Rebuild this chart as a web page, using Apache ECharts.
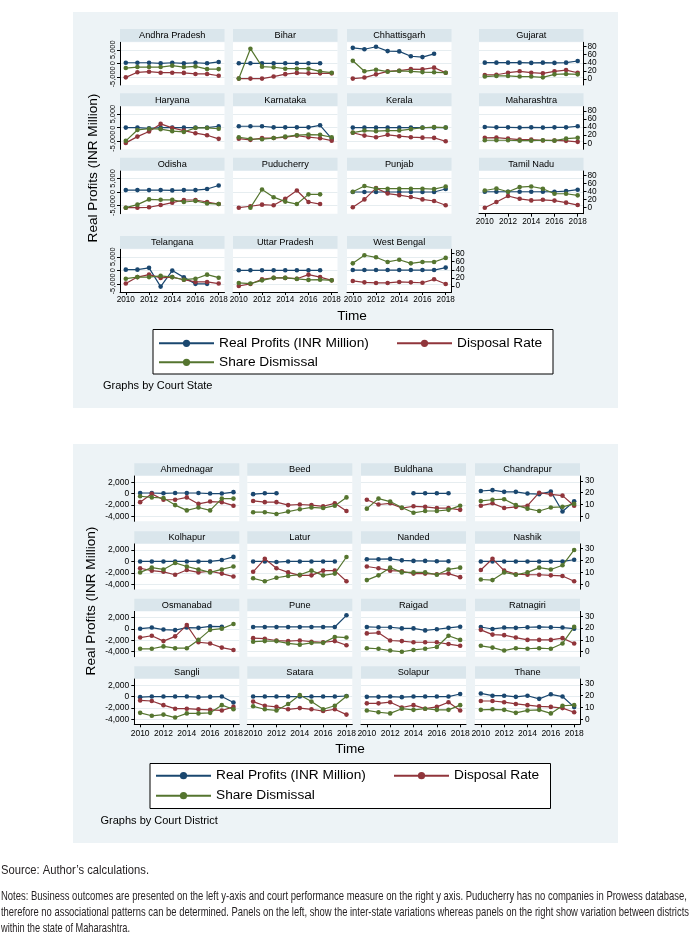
<!DOCTYPE html>
<html>
<head>
<meta charset="utf-8">
<script src="https://cdn.jsdelivr.net/npm/echarts@6/dist/echarts.min.js"></script>
<style>
html,body{margin:0;padding:0;background:#ffffff;}
#chart{width:690px;height:941px;}
</style>
</head>
<body>
<div id="chart"></div>
<script>
// ---------------- DATA ----------------
const years = ['2010','2011','2012','2013','2014','2015','2016','2017','2018'];
const seriesNames = ['Real Profits (INR Million)', 'Disposal Rate', 'Share Dismissal'];

const stateNames = ['Andhra Pradesh','Bihar','Chhattisgarh','Gujarat','Haryana','Karnataka','Kerala','Maharashtra','Odisha','Puducherry','Punjab','Tamil Nadu','Telangana','Uttar Pradesh','West Bengal'];
const stateProfits = [
  [200,200,200,0,200,0,200,0,500],
  [0,0,0,0,0,0,0,0,null],
  [5700,5200,6100,4500,4400,2600,2300,3500,null],
  [250,250,250,250,150,250,150,250,850],
  [0,0,-250,0,0,0,0,0,500],
  [500,500,500,100,100,100,100,850,-4100],
  [0,0,0,0,0,0,0,0,0],
  [250,100,100,0,100,0,100,100,500],
  [700,700,700,700,600,700,700,1100,2400],
  [null,null,null,null,null,null,null,null,null],
  [0,0,0,0,0,0,0,0,1100],
  [100,100,100,100,100,100,100,350,850],
  [250,250,900,-6000,-100,-2600,-5000,-5000,null],
  [0,0,0,0,0,0,0,0,null],
  [100,100,100,100,100,100,100,100,1000]
];
const stateDisposal = [
  [4,16.5,18,15.5,15.5,15,12.5,12.5,8],
  [1,1,1,6,12,15,14,14,14],
  [1,3.5,11.5,19,20.5,24.5,24,28,15.5],
  [10,10.5,15.5,19,15.5,14,19,22,15.5],
  [1,16.5,29,48,38,31.5,25,20,11],
  [11.5,8.5,13,13,15,19,15,12.5,6.5],
  [26,19,15,21,17.5,15,14,13.5,5],
  [13.5,14,11.5,9,9,7,7,6,3.5],
  [0,0,1,6.5,12.5,19,19,14,9],
  [0,3.5,7.5,6,22,42.5,14,9,null],
  [1,20.5,48.5,35,31,26.5,20.5,16.5,6],
  [0,14,29,22,18,19.5,17.5,12.5,6.5],
  [6,22,28,20,22,15.5,10,10,6],
  [0,5,16.5,20,20,18,28,22,14],
  [12.5,9,7.5,7.5,10,9,8,16.5,5]
];
const stateDismissal = [
  [27,29.5,29.5,29.5,33,29.5,31,24.5,24.5],
  [1,75,30.5,29,25.5,25.5,25.5,19,15.5],
  [45,19,23,18,20,19,17,16.5,15.5],
  [6,7.5,7.5,6,6,4,11.5,12.5,11.5],
  [6,33,36,35,30,28,38,38,36],
  [15,11,10,13,16.5,20,21.5,21,15],
  [26.5,31.5,30,31.5,31.5,35,38.5,40,39],
  [7.5,7.5,7.5,6.5,6.5,7.5,6.5,11.5,13.5],
  [0,7.5,20.5,19.5,19.5,14,16.5,10.5,9],
  [null,0,45,26,15,9,33,33,null],
  [39.5,53.5,47.5,47,47,47,47,46,52.5],
  [42.5,47.5,39.5,51,52.5,47,34.5,34.5,30.5],
  [18,22,22,25,22,15.5,18,28,20.5],
  [7.5,6,14,20,20,17.5,15,15.5,14],
  [56,76,71,59.5,65,56,59.5,59.5,69.5]
];

const districtNames = ['Ahmednagar','Beed','Buldhana','Chandrapur','Kolhapur','Latur','Nanded','Nashik','Osmanabad','Pune','Raigad','Ratnagiri','Sangli','Satara','Solapur','Thane'];
const districtProfits = [
  [100,100,50,100,100,100,0,0,250],
  [-100,50,50,null,null,null,null,null,null],
  [null,null,null,null,50,50,50,50,null],
  [450,600,300,300,0,-100,350,-3150,-1350],
  [0,0,0,0,0,0,0,250,800],
  [0,0,-100,0,0,0,0,0,null],
  [400,400,450,200,100,100,50,50,null],
  [0,0,0,0,0,0,0,0,300],
  [50,250,-100,-200,250,200,450,400,null],
  [350,350,350,350,350,350,350,350,2400],
  [350,300,300,100,100,-250,-50,200,400],
  [350,0,250,200,300,350,300,250,50],
  [-100,0,0,0,0,-100,-50,0,-1050],
  [0,0,0,0,0,0,0,0,100],
  [-50,-50,0,-100,0,0,0,0,450],
  [550,150,150,-50,150,-400,400,0,-1850]
];
const districtDisposal = [
  [12,19,14,14,16,10.5,12.5,12,9],
  [13,12,12,9.5,10,9.5,8.5,11,4.5],
  [14,10,11,7,8.5,8,7,7,5.5],
  [9,11,7,8,9,20,18.5,17.5,9],
  [13.5,11.5,10.5,8,12,10,11,9,6.5],
  [10.5,21.5,13.5,10,7.5,7.5,11.5,11.5,2.5],
  [15,13.5,11.5,11,9,9,8.5,9,6],
  [12,21.5,11.5,8.5,8,8,7.5,7,2.5],
  [12,13.5,9,13,22.5,8,7,3.5,1.5],
  [11.5,11,9.5,9,9.5,8.5,8,9,5.5],
  [15.5,16,9.5,9,8,8,8,6.5,5],
  [18.5,14.5,14,12,10,10,10,11.5,7],
  [16,15.5,12,9,9,8.5,8,7.5,10.5],
  [15,11.5,10.5,8.5,9.5,8.5,7,8.5,4],
  [13.5,13.5,14.5,10,12,9,10.5,14.5,7.5],
  [15.5,15.5,14.5,13,12,11,10.5,9.5,6]
];
const districtDismissal = [
  [17,16,15.5,9.5,5,7.5,5,15,15],
  [3.5,3.5,2,4,6,7.5,7,9,16],
  [6.5,15,12.5,7.5,3,4.5,4.5,5.5,9],
  [13,14,14.5,9.5,6.5,4.5,7.5,8,10.5],
  [10,14,12.5,18,15,12.5,10,12.5,15],
  [5,2.5,5.5,7,8,11.5,7.5,9,23],
  [3.5,7.5,14,10,10,10,8,12.5,14],
  [4,3.5,10,8,10,14,12.5,16,29],
  [2.5,2.5,4.5,3,3,10,18.5,19.5,23.5],
  [8.5,9,9,7,6,7.5,7.5,12.5,12],
  [3,2.5,1,0,1.5,2.5,4,13.5,10],
  [5,3.5,1,3,2.5,3,2.5,7,21],
  [5.5,3,4,1.5,5,5,5.5,12,8.5],
  [11,8.5,7.5,13,20.5,15,8.5,11.5,19.5],
  [7.5,6,5,9,8,9,8,8,12],
  [8,8.5,8,5.5,7.5,8,5,11.5,12]
];

const stateLeftTicks = [-5000, 0, 5000];
const stateRightTicks = [0, 20, 40, 60, 80];
const districtLeftTicks = [-4000, -2000, 0, 2000];
const districtRightTicks = [0, 10, 20, 30];

const noteLines = [
  'Source: Author\u2019s calculations.',
  'Notes: Business outcomes are presented on the left y-axis and court performance measure on the right y axis. Puducherry has no companies in Prowess database,',
  'therefore no associational patterns can be determined. Panels on the left, show the inter-state variations whereas panels on the right show variation between districts',
  'within the state of Maharashtra.'
];

// ---------------- STYLE / LAYOUT ----------------
const FONT = '"Liberation Sans", Arial, Helvetica, sans-serif';
const NOTE_FONT_FAMILY = '"Liberation Sans Narrow", "Liberation Sans", Arial, sans-serif';
const COLORS = ['#1a476f', '#90353b', '#55752f'];
const BG = '#edf3f6';
const STRIP = '#dae6ec';
const GRIDLINE = '#e6edf0';

const option = {
  animation: false,
  backgroundColor: '#ffffff',
  grid: [], xAxis: [], yAxis: [], series: [], legend: [], graphic: []
};
const G = option.graphic;

function fmt(v) { return Number(v).toLocaleString('en-US'); }

function addFigure(cfg) {
  G.push({ type: 'rect', z: -10, silent: true, shape: { x: cfg.bg[0], y: cfg.bg[1], width: cfg.bg[2], height: cfg.bg[3] }, style: { fill: BG } });
  cfg.names.forEach((name, i) => {
    const row = Math.floor(i / 4), col = i % 4;
    const gi = option.grid.length;
    const x = cfg.colX[col];
    const sy = cfg.stripTop[row];
    const top = sy + cfg.stripOffset;
    option.grid.push({ left: x, top: top, width: cfg.w, height: cfg.plotH, show: true, backgroundColor: '#ffffff', borderWidth: 0, borderColor: 'transparent', containLabel: false, outerBoundsMode: 'none' });
    G.push({ type: 'rect', z: -5, silent: true, shape: { x: x, y: sy, width: cfg.w, height: cfg.stripH }, style: { fill: STRIP } });
    G.push({ type: 'text', z: 5, silent: true, x: x + cfg.w / 2, y: sy + cfg.stripH / 2 + 0.5,
      style: { text: name, fontSize: cfg.titleFont, fontFamily: FONT, fill: '#000', align: 'center', verticalAlign: 'middle', textAlign: 'center', textVerticalAlign: 'middle' } });
    const showX = cfg.xLabelPanels.indexOf(i) >= 0;
    const showL = col === 0;
    const showR = cfg.rightPanels.indexOf(i) >= 0;
    const axisLineStyle = { color: '#000', width: 1 };
    option.xAxis.push({
      type: 'category', gridIndex: gi, data: years, boundaryGap: true,
      axisLine: { show: showX, onZero: false, lineStyle: axisLineStyle },
      axisTick: { show: showX, alignWithLabel: true, interval: 1, length: 3, inside: false, lineStyle: axisLineStyle },
      axisLabel: { show: showX, interval: 1, fontSize: cfg.xFont, color: '#000', fontFamily: FONT, margin: cfg.xMargin, hideOverlap: false },
      splitLine: { show: false }, splitArea: { show: false }
    });
    option.yAxis.push({
      type: 'value', gridIndex: gi, position: 'left', min: cfg.leftRange[0], max: cfg.leftRange[1], scale: false,
      axisLine: { show: showL, onZero: false, lineStyle: axisLineStyle },
      axisTick: { show: showL, length: 3, inside: false, customValues: cfg.leftTicks, lineStyle: axisLineStyle },
      axisLabel: { show: showL, customValues: cfg.leftTicks, formatter: fmt, rotate: cfg.leftRotate, fontSize: cfg.leftFont, color: '#000', fontFamily: FONT, margin: cfg.leftMargin, hideOverlap: false, showMinLabel: true, showMaxLabel: true },
      splitLine: { show: true, lineStyle: { color: GRIDLINE, width: 1, type: 'solid' } },
      splitArea: { show: false }
    }, {
      type: 'value', gridIndex: gi, position: 'right', min: cfg.rightRange[0], max: cfg.rightRange[1], scale: false,
      axisLine: { show: showR, onZero: false, lineStyle: axisLineStyle },
      axisTick: { show: showR, length: 3, inside: false, customValues: cfg.rightTicks, lineStyle: axisLineStyle },
      axisLabel: { show: showR, customValues: cfg.rightTicks, fontSize: cfg.rightFont, color: '#000', fontFamily: FONT, margin: cfg.rightMargin, hideOverlap: false, showMinLabel: true, showMaxLabel: true },
      splitLine: { show: false }, splitArea: { show: false }
    });
    const yl = option.yAxis.length - 2;
    const sets = [cfg.profits[i], cfg.disposal[i], cfg.dismissal[i]];
    sets.forEach((vals, k) => {
      option.series.push({
        type: 'line', name: seriesNames[k], xAxisIndex: gi, yAxisIndex: k === 0 ? yl : yl + 1,
        data: vals, symbol: 'circle', symbolSize: 4.6, showSymbol: true, showAllSymbol: true,
        connectNulls: false, silent: true, emphasis: { disabled: true },
        lineStyle: { color: COLORS[k], width: 1.2 }, itemStyle: { color: COLORS[k], borderWidth: 0 },
        z: 2 + k
      });
    });
  });
  G.push({ type: 'text', z: 5, silent: true, x: cfg.yTitle[0], y: cfg.yTitle[1], rotation: Math.PI / 2,
    style: { text: 'Real Profits (INR Million)', fontSize: 13.6, fontFamily: FONT, fill: '#000', align: 'center', verticalAlign: 'middle', textAlign: 'center', textVerticalAlign: 'middle' } });
  G.push({ type: 'text', z: 5, silent: true, x: cfg.xTitle[0], y: cfg.xTitle[1],
    style: { text: 'Time', fontSize: 13.6, fontFamily: FONT, fill: '#000', align: 'center', verticalAlign: 'middle', textAlign: 'center', textVerticalAlign: 'middle' } });
  G.push({ type: 'rect', z: 1, silent: true, shape: { x: cfg.legBox[0], y: cfg.legBox[1], width: cfg.legBox[2], height: cfg.legBox[3] }, style: { fill: '#ffffff', stroke: '#000', lineWidth: 1 } });
  const legText = { fontSize: 13.7, color: '#000', fontFamily: FONT, lineHeight: 14 };
  option.legend.push({
    data: [{ name: seriesNames[0] }, { name: seriesNames[2] }], orient: 'vertical', left: cfg.leg1[0], top: cfg.leg1[1],
    itemWidth: 55, itemHeight: 9, itemGap: cfg.legGap, padding: 0, selectedMode: false, z: 10, textStyle: legText
  }, {
    data: [{ name: seriesNames[1] }], orient: 'vertical', left: cfg.leg2[0], top: cfg.leg2[1],
    itemWidth: 55, itemHeight: 9, itemGap: cfg.legGap, padding: 0, selectedMode: false, z: 10, textStyle: legText
  });
  G.push({ type: 'text', z: 5, silent: true, x: cfg.graphsBy[0], y: cfg.graphsBy[1],
    style: { text: cfg.graphsByText, fontSize: 11, fontFamily: FONT, fill: '#000', align: 'left', verticalAlign: 'middle', textAlign: 'left', textVerticalAlign: 'middle' } });
}

addFigure({
  names: stateNames, profits: stateProfits, disposal: stateDisposal, dismissal: stateDismissal,
  bg: [73, 12, 545, 396],
  colX: [120, 233, 347, 479], w: 104.5,
  stripTop: [29, 93.3, 157.7, 236], stripH: 12.7, stripOffset: 13.3, plotH: 42.7,
  leftRange: [-8000, 7750], rightRange: [-14.9, 90.8],
  leftTicks: stateLeftTicks, rightTicks: stateRightTicks,
  leftRotate: 90, leftFont: 7.4, leftMargin: 4,
  rightFont: 8.3, rightMargin: 4, xFont: 8.2, xMargin: 4, titleFont: 9.2,
  xLabelPanels: [11, 12, 13, 14], rightPanels: [3, 7, 11, 14],
  yTitle: [93, 168], xTitle: [352, 316.5],
  legBox: [153, 329.5, 400, 44.5], leg1: [158, 336.3], leg2: [396, 336.3], legGap: 5,
  graphsBy: [103, 386], graphsByText: 'Graphs by Court State'
});

addFigure({
  names: districtNames, profits: districtProfits, disposal: districtDisposal, dismissal: districtDismissal,
  bg: [73, 444, 545, 399],
  colX: [134.3, 247.3, 361, 475], w: 105,
  stripTop: [463.3, 531.2, 598.7, 666.3], stripH: 12.3, stripOffset: 12.7, plotH: 45.3,
  leftRange: [-4870, 3085], rightRange: [-4.2, 34.1],
  leftTicks: districtLeftTicks, rightTicks: districtRightTicks,
  leftRotate: 0, leftFont: 8.5, leftMargin: 5,
  rightFont: 8.3, rightMargin: 5, xFont: 8.5, xMargin: 5, titleFont: 9.2,
  xLabelPanels: [12, 13, 14, 15], rightPanels: [3, 7, 11, 15],
  yTitle: [91, 601], xTitle: [350, 749.5],
  legBox: [150, 763.5, 400.5, 45], leg1: [155, 768.7], leg2: [393, 768.7], legGap: 6,
  graphsBy: [100.5, 820.7], graphsByText: 'Graphs by Court District'
});

(function () {
  const fs = 12.2;
  const ctx = document.createElement('canvas').getContext('2d');
  ctx.font = fs + 'px ' + NOTE_FONT_FAMILY;
  const targets = [148, 686, 688, 129];
  const ys = [871, 897, 913, 929];
  noteLines.forEach((t, i) => {
    const w = ctx.measureText(t).width || 1;
    G.push({ type: 'text', z: 5, silent: true, x: 1, y: ys[i], scaleX: targets[i] / w, scaleY: 1,
      style: { text: t, fontSize: fs, fontFamily: NOTE_FONT_FAMILY, fill: '#231f20', align: 'left', verticalAlign: 'middle', textAlign: 'left', textVerticalAlign: 'middle' } });
  });
})();

const chart = echarts.init(document.getElementById('chart'), null, { renderer: 'canvas', width: 690, height: 941 });
chart.setOption(option);
</script>
</body>
</html>
